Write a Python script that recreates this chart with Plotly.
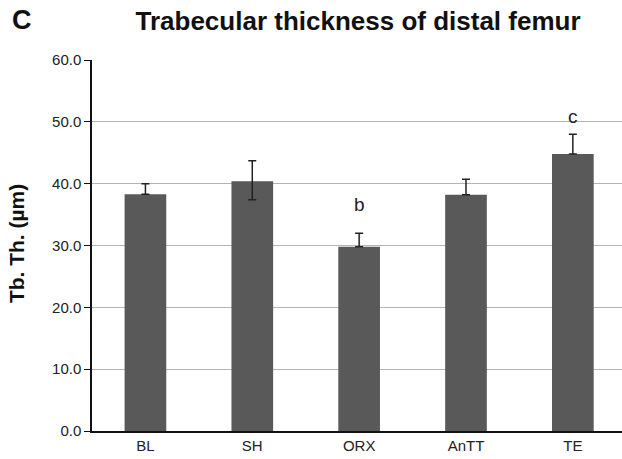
import plotly.graph_objects as go

groups = ["BL", "SH", "ORX", "AnTT", "TE"]
means = [38.3, 40.4, 29.8, 38.2, 44.8]
err_up = [1.7, 3.3, 2.2, 2.5, 3.2]
err_down = [0, 3.0, 0, 0, 0]
marks = ["", "", "b", "", "c"]
mark_y = [0, 0, 36.6, 0, 50.9]
y_ticks = [0, 10, 20, 30, 40, 50, 60]

fig = go.Figure()
fig.add_trace(go.Bar(
    x=groups, y=means, width=0.39,
    marker=dict(color="#595959", line=dict(width=0)),
    error_y=dict(type="data", array=err_up, arrayminus=err_down, symmetric=False,
                 color="#222222", thickness=1.5, width=4),
    showlegend=False,
))

for g, m, my in zip(groups, marks, mark_y):
    if m:
        fig.add_annotation(x=g, y=my, text=m, showarrow=False,
                           font=dict(size=19, color="#222222"))

# panel letter
fig.add_annotation(text="<b>C</b>", xref="paper", yref="paper", x=-0.1547, y=1.108,
                   xanchor="left", yanchor="middle", showarrow=False,
                   font=dict(size=27, color="#111111"))

# y axis title
fig.add_annotation(text="<b>Tb. Th. (\u00b5m)</b>", xref="paper", yref="paper",
                   x=-0.1425, y=0.505, textangle=-90, xanchor="center", yanchor="middle",
                   showarrow=False, font=dict(size=21, color="#111111"))

fig.update_layout(
    width=622, height=459,
    margin=dict(l=92, r=0, t=60, b=28),
    plot_bgcolor="white", paper_bgcolor="white",
    font=dict(family="Liberation Sans, Arial, sans-serif", color="#222222"),
    title=dict(text="<b>Trabecular thickness of distal femur</b>", x=0.5756, xanchor="center",
               y=0.954, yanchor="middle", font=dict(size=26, color="#111111")),
    bargap=0.6,
)
fig.update_xaxes(range=[-0.5, 4.46], showline=True, linecolor="#111111", linewidth=1.5,
                 ticks="", tickfont=dict(size=15, color="#222222"), automargin=False)
fig.update_yaxes(range=[0, 60], tickvals=y_ticks, tickformat=".1f",
                 showline=True, linecolor="#111111", linewidth=1.5,
                 ticks="outside", ticklen=6, tickcolor="#111111",
                 showgrid=True, gridcolor="#b4b4b4", gridwidth=1.2, zeroline=False,
                 tickfont=dict(size=15, color="#222222"),
                 automargin=False)

# drop the page's default body margin so the figure sits at the window corner
fig.write_html("out.html", config={"displayModeBar": False},
               post_script="document.body.style.margin='0';")
